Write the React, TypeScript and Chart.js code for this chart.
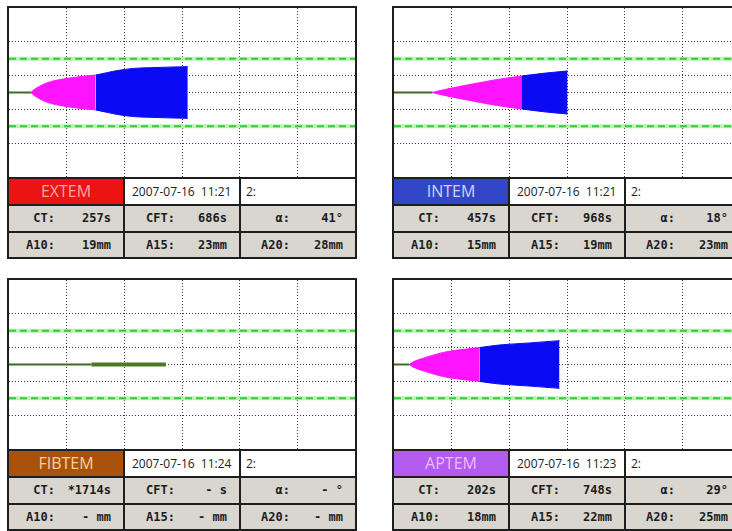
import React, { useEffect, useRef } from "react";
import { Chart, registerables } from "chart.js";

Chart.register(...registerables);

// axes: time in minutes, amplitude in mm (trace drawn symmetric, ±A/2)
const timeRange = [0, 60];
const ampRange = [-50, 50];
const timeGridTicks = [10, 20, 30, 40, 50];
const ampGridTicks = [-30, -10, 0, 10, 30];
const referenceAmps = [20, -20];

// EXTEM trace
const extemBaseT = [0, 3.8];
const extemCtT = [3.8, 4.3, 5.0, 5.8, 7.2, 10.2, 12.9, 15.0];
const extemCtA = [0, 3.2, 6.2, 9.2, 12.8, 16.8, 19.2, 20.6];
const extemMcfT = [15.0, 17.0, 18.8, 21.6, 24.5, 27.5, 31.0];
const extemMcfA = [20.6, 23.5, 26, 28.5, 29.4, 30.0, 30.6];

// INTEM trace
const intemBaseT = [0, 6.7];
const intemCtT = [6.7, 7.5, 10.0, 14.2, 18.0, 22.2];
const intemCtA = [0, 1.5, 5.2, 10.8, 15.5, 19.6];
const intemMcfT = [22.2, 26.0, 30.1];
const intemMcfA = [19.6, 22.8, 25.5];

// FIBTEM trace (only a flat line)
const fibtemBaseT = [0, 14.3];
const fibtemThickT = [14.3, 27.2];

// APTEM trace
const aptemBaseT = [0, 2.65];
const aptemCtT = [2.65, 3.2, 3.8, 5.5, 7.5, 9.6, 12.2, 14.8];
const aptemCtA = [0, 2.6, 4.5, 8.4, 12.5, 15.7, 18.0, 20.0];
const aptemMcfT = [14.8, 18.3, 23.5, 28.7];
const aptemMcfA = [20.0, 23.1, 25.5, 28.2];

// table texts
const testNames = ["EXTEM", "INTEM", "FIBTEM", "APTEM"];
const testDates = ["2007-07-16  11:21", "2007-07-16  11:21", "2007-07-16  11:24", "2007-07-16  11:23"];
const ctValues = ["257s", "457s", "*1714s", "202s"];
const cftValues = ["686s", "968s", "- s", "748s"];
const alphaValues = ["41°", "18°", "- °", "29°"];
const a10Values = ["19mm", "15mm", "- mm", "18mm"];
const a15Values = ["23mm", "19mm", "- mm", "22mm"];
const a20Values = ["28mm", "23mm", "- mm", "25mm"];
const row2Labels = ["CT:", "CFT:", "α:"];
const row3Labels = ["A10:", "A15:", "A20:"];

const labelBgColors = ["#ec1313", "#3446c8", "#a9520c", "#b35af0"];
const labelTextColors = ["#f7a9a6", "#cdd4fa", "#fad1a2", "#ecbdf8"];

const PINK = "#ff14ff";
const BLUE = "#0a0af5";
const BASE_GREEN = "#3e6b20";

function refDatasets() {
  const out: any[] = [];
  referenceAmps.forEach((v) => {
    const pts = timeRange.map((t) => ({ x: t, y: v }));
    out.push({
      data: pts,
      borderColor: "rgba(175,235,170,0.8)",
      borderWidth: 4,
      pointRadius: 0,
      fill: false,
      order: 10,
    });
    out.push({
      data: pts,
      borderColor: "#30d030",
      borderWidth: 2,
      borderDash: [7, 4],
      pointRadius: 0,
      fill: false,
      order: 9,
    });
  });
  return out;
}

function lineDataset(ts: number[], color: string, width: number) {
  return {
    data: ts.map((t) => ({ x: t, y: 0 })),
    borderColor: color,
    borderWidth: width,
    pointRadius: 0,
    fill: false,
    order: 2,
  };
}

function bandDatasets(ts: number[], amps: number[], color: string) {
  return [
    {
      data: ts.map((t, i) => ({ x: t, y: amps[i] / 2 })),
      borderColor: color,
      backgroundColor: color,
      borderWidth: 1,
      pointRadius: 0,
      cubicInterpolationMode: "monotone",
      fill: "+1",
      order: 1,
    },
    {
      data: ts.map((t, i) => ({ x: t, y: -amps[i] / 2 })),
      borderColor: color,
      backgroundColor: color,
      borderWidth: 1,
      pointRadius: 0,
      cubicInterpolationMode: "monotone",
      fill: false,
      order: 1,
    },
  ];
}

function buildDatasets(i: number) {
  const ds: any[] = [];
  if (i === 0) {
    ds.push(...bandDatasets(extemCtT, extemCtA, PINK));
    ds.push(...bandDatasets(extemMcfT, extemMcfA, BLUE));
    ds.push(lineDataset(extemBaseT, BASE_GREEN, 2));
  } else if (i === 1) {
    ds.push(...bandDatasets(intemCtT, intemCtA, PINK));
    ds.push(...bandDatasets(intemMcfT, intemMcfA, BLUE));
    ds.push(lineDataset(intemBaseT, BASE_GREEN, 2));
  } else if (i === 2) {
    ds.push(lineDataset(fibtemBaseT, BASE_GREEN, 2));
    ds.push(lineDataset(fibtemThickT, "#4a7a22", 4));
  } else {
    ds.push(...bandDatasets(aptemCtT, aptemCtA, PINK));
    ds.push(...bandDatasets(aptemMcfT, aptemMcfA, BLUE));
    ds.push(lineDataset(aptemBaseT, BASE_GREEN, 2));
  }
  ds.push(...refDatasets());
  return ds;
}

const gridCommon = {
  color: "#3a3a3a",
  lineWidth: 1,
  drawTicks: false,
};

function TraceChart({ index }: { index: number }) {
  const ref = useRef<HTMLCanvasElement | null>(null);
  useEffect(() => {
    if (!ref.current) return;
    const chart = new Chart(ref.current, {
      type: "line",
      data: { datasets: buildDatasets(index) },
      options: {
        animation: false,
        responsive: false,
        maintainAspectRatio: false,
        events: [],
        layout: { padding: 0 },
        plugins: { legend: { display: false }, tooltip: { enabled: false } },
        scales: {
          x: {
            type: "linear",
            min: timeRange[0],
            max: timeRange[1],
            ticks: { display: false },
            grid: gridCommon,
            border: { display: false, dash: [1, 2] },
            afterBuildTicks: (s: any) => {
              s.ticks = timeGridTicks.map((v) => ({ value: v }));
            },
          },
          y: {
            type: "linear",
            min: ampRange[0],
            max: ampRange[1],
            ticks: { display: false },
            grid: gridCommon,
            border: { display: false, dash: [1, 2] },
            afterBuildTicks: (s: any) => {
              s.ticks = ampGridTicks.map((v) => ({ value: v }));
            },
          },
        },
      } as any,
    });
    return () => chart.destroy();
  }, [index]);
  return <canvas ref={ref} width={346} height={169} style={{ display: "block" }} />;
}

const PANEL_W = 350;
const PANEL_H = 253;
const COL_X = [2, 118, 234];
const COL_W = 114;
const ROW_Y = [173, 200, 227];
const ROW_H = [25, 25, 24];
const LABEL_END = [46, 50, 49];

function DataCell({ col, row, label, value }: any) {
  return (
    <div
      style={{
        position: "absolute",
        left: COL_X[col],
        top: ROW_Y[row],
        width: COL_W,
        height: ROW_H[row],
        background: "#d9d6d0",
        color: "#1c1c1c",
        font: 'bold 12px "DejaVu Sans Mono", monospace',
        lineHeight: ROW_H[row] + "px",
        whiteSpace: "pre",
      }}
    >
      <span style={{ position: "absolute", right: COL_W - LABEL_END[col], top: 0 }}>{label}</span>
      <span style={{ position: "absolute", right: 12, top: 0 }}>{value}</span>
    </div>
  );
}

function Panel({ index, left, top }: { index: number; left: number; top: number }) {
  return (
    <div
      style={{
        position: "absolute",
        left,
        top,
        width: PANEL_W,
        height: PANEL_H,
        background: "#1e1e1e",
      }}
    >
      <div style={{ position: "absolute", left: 2, top: 2, width: 346, height: 169, background: "#fff" }}>
        <TraceChart index={index} />
      </div>
      <div
        style={{
          position: "absolute",
          left: COL_X[0],
          top: ROW_Y[0],
          width: COL_W,
          height: ROW_H[0],
          background: labelBgColors[index],
          color: labelTextColors[index],
          font: '16px "Open Sans", sans-serif',
          lineHeight: ROW_H[0] + "px",
          textAlign: "center",
        }}
      >
        {testNames[index]}
      </div>
      <div
        style={{
          position: "absolute",
          left: COL_X[1],
          top: ROW_Y[0],
          width: COL_W,
          height: ROW_H[0],
          background: "#fff",
          color: "#222",
          font: '12px "Open Sans", sans-serif',
          lineHeight: ROW_H[0] + "px",
          paddingLeft: 7,
          boxSizing: "border-box",
          whiteSpace: "pre",
        }}
      >
        {testDates[index]}
      </div>
      <div
        style={{
          position: "absolute",
          left: COL_X[2],
          top: ROW_Y[0],
          width: COL_W,
          height: ROW_H[0],
          background: "#fff",
          color: "#222",
          font: '12px "Open Sans", sans-serif',
          lineHeight: ROW_H[0] + "px",
          paddingLeft: 5,
          boxSizing: "border-box",
        }}
      >
        2:
      </div>
      <DataCell col={0} row={1} label={row2Labels[0]} value={ctValues[index]} />
      <DataCell col={1} row={1} label={row2Labels[1]} value={cftValues[index]} />
      <DataCell col={2} row={1} label={row2Labels[2]} value={alphaValues[index]} />
      <DataCell col={0} row={2} label={row3Labels[0]} value={a10Values[index]} />
      <DataCell col={1} row={2} label={row3Labels[1]} value={a15Values[index]} />
      <DataCell col={2} row={2} label={row3Labels[2]} value={a20Values[index]} />
    </div>
  );
}

const panelLefts = [7, 392, 7, 392];
const panelTops = [6, 6, 278, 278];

export default function App() {
  return (
    <div
      style={{
        position: "fixed",
        left: 0,
        top: 0,
        width: 732,
        height: 531,
        overflow: "hidden",
        background: "#fff",
      }}
    >
      {testNames.map((_, i) => (
        <Panel key={i} index={i} left={panelLefts[i]} top={panelTops[i]} />
      ))}
    </div>
  );
}
